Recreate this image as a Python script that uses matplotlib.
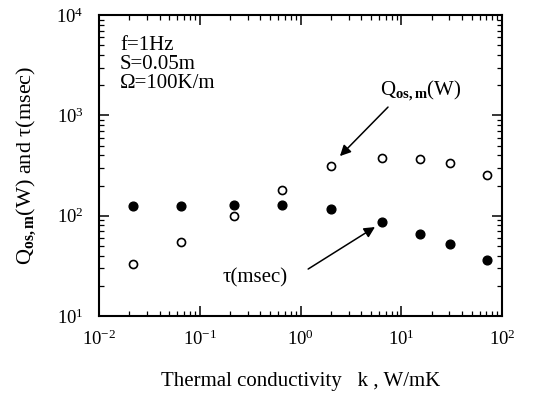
import matplotlib
matplotlib.use("Agg")
import numpy as np
import matplotlib.pyplot as plt

plt.rcParams['font.family'] = ['Liberation Serif', 'DejaVu Serif']
plt.rcParams['mathtext.fontset'] = 'custom'
plt.rcParams['mathtext.rm'] = 'Liberation Serif'
plt.rcParams['mathtext.it'] = 'Liberation Serif:italic'
plt.rcParams['mathtext.bf'] = 'Liberation Serif:bold'

# thermal conductivity k (W/mK)
k = [0.0216, 0.0647, 0.22, 0.65, 2.01, 6.5, 15.2, 30.5, 70.5]
# Q_os,m (W), open circles
q_os = [32.7, 55, 100, 180, 315, 376, 365, 335, 256]
# tau (msec), filled circles
tau = [125, 125, 127, 128.5, 117, 86.5, 65.5, 52.5, 36.3]

fig = plt.figure(figsize=(5.36, 3.98), dpi=100)
ax = fig.add_axes([0.1847, 0.206, 0.752, 0.756])

ax.plot(k, q_os, 'o', ms=5.8, mfc='white', mec='black', mew=1.2)
ax.plot(k, tau, 'o', ms=6.3, mfc='black', mec='black')

ax.set_xscale('log')
ax.set_yscale('log')
ax.set_xlim(1e-2, 1e2)
ax.set_ylim(1e1, 1e4)

ax.tick_params(which='both', direction='in', top=True, right=True, labelsize=13.5)
ax.tick_params(which='major', length=7, width=1.1)
ax.tick_params(which='minor', length=3.5, width=0.9)
ax.tick_params(axis='x', which='both', pad=10)
ax.tick_params(axis='y', which='both', pad=11)
for s in ax.spines.values():
    s.set_linewidth(1.5)

ax.set_xlabel('Thermal conductivity   k , W/mK', fontsize=15, labelpad=16)
ax.set_ylabel('Q$_{\\mathbf{os,m}}$(W) and \u03c4(msec)', fontsize=16, labelpad=13)

ax.text(0.052, 0.93, 'f=1Hz\nS=0.05m\n\u03a9=100K/m', transform=ax.transAxes,
        fontsize=15, va='top', ha='left', linespacing=1.0)

# labels with arrows
ax.text(6.15, 1595, r'Q$_{\mathbf{os,m}}$(W)', fontsize=15, ha='left', va='baseline')
ax.annotate('', xy=(2.46, 393), xytext=(7.38, 1211),
            arrowprops=dict(arrowstyle='-|>', color='black', lw=1.1, shrinkA=0, shrinkB=0,
                            mutation_scale=16))
ax.text(0.170, 21.8, '\u03c4(msec)', fontsize=15, ha='left', va='baseline')
ax.annotate('', xy=(5.48, 77.1), xytext=(1.19, 29.4),
            arrowprops=dict(arrowstyle='-|>', color='black', lw=1.1, shrinkA=0, shrinkB=0,
                            mutation_scale=16))

fig.savefig('out.png', dpi=100)
